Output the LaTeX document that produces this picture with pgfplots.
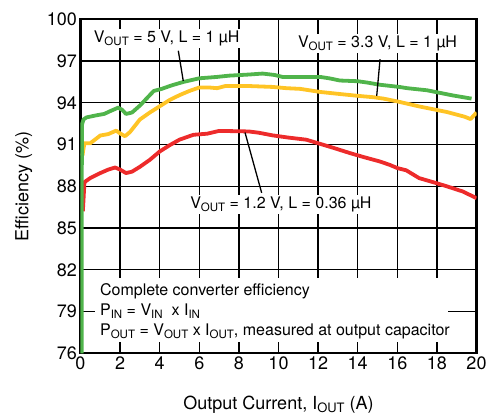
\documentclass[border=0pt]{standalone}
\usepackage{fontspec}
\setmainfont{TeX Gyre Heros}
\usepackage{pgfplots}
\pgfplotsset{compat=1.18}

\definecolor{vgreen}{RGB}{80,180,75}
\definecolor{vyellow}{RGB}{255,196,37}
\definecolor{vred}{RGB}{237,43,43}
\newcommand\sub[1]{\raisebox{-0.3ex}{\scalebox{0.72}{#1}}}

\begin{document}
\begin{tikzpicture}
\begin{axis}[
	name=ax,
	scale only axis,
	width=396pt,
	height=334pt,
	xmin=0, xmax=20,
	ymin=76, ymax=100,
	xtick={0,2,...,20},
	ytick={76,79,...,100},
	grid=major,
	major grid style={black, line width=1.3pt},
	axis line style={black, line width=2.4pt},
	major tick length=0pt,
	ticklabel style={font=\fontsize{18}{20}\selectfont},
	/pgf/number format/assume math mode=true,
	label style={font=\fontsize{18}{20}\selectfont},
	xlabel={Output Current, I\sub{OUT} (A)},
	ylabel={Efficiency (\%)},
	xlabel style={at={(axis description cs:0.5,-0.155)}, anchor=center},
	ylabel style={at={(axis description cs:-0.143,0.5)}, anchor=center},
]
% 1.2 V, L = 0.36 uH
\addplot[vred, line width=3.8pt, line join=round] coordinates {
(0.12,86.2) (0.2,88.3) (0.5,88.6) (1.0,88.95) (1.4,89.2) (1.75,89.35) (2.0,89.2)
(2.3,88.95) (2.6,89.05) (3.0,89.4) (3.5,89.9) (4.0,90.5) (4.5,90.95) (5.0,91.35)
(5.7,91.7) (6.4,91.78) (7.0,91.98) (7.8,91.96) (8.5,91.94) (9.0,91.85) (9.7,91.66)
(10.5,91.5) (11.4,91.35) (12.1,91.05) (12.8,90.75) (13.6,90.39) (14.3,90.1)
(15.1,89.79) (15.6,89.55) (16.0,89.31) (16.45,89.15) (17.1,88.59) (17.8,88.3)
(18.5,88.0) (19.3,87.63) (20,87.15)
};
% 3.3 V, L = 1 uH
\addplot[vyellow, line width=3.8pt, line join=round] coordinates {
(0.1,90.2) (0.14,90.6) (0.2,91.1) (0.5,91.1) (1.0,91.65) (1.4,91.75) (1.8,92.0)
(2.0,91.8) (2.25,91.6) (2.5,91.9) (3.0,92.8) (3.5,93.3) (4.0,93.75) (4.5,94.2)
(5.0,94.55) (5.5,94.85) (6.0,95.1) (6.5,95.1) (6.9,95.05) (7.3,95.2) (8.0,95.2)
(8.6,95.2) (9.7,95.14) (10.4,95.05) (11.1,95.0) (12.1,94.78) (13.1,94.63)
(14.0,94.5) (14.8,94.4) (15.3,94.3) (16.0,94.1) (17.1,93.74) (18.5,93.34)
(19.4,93.0) (19.7,92.83) (20,93.3)
};
% 5 V, L = 1 uH
\addplot[vgreen, line width=3.8pt, line join=round] coordinates {
(0.06,76) (0.07,92.4) (0.15,92.8) (0.3,92.95) (0.8,93.1) (1.2,93.2) (1.5,93.4)
(1.9,93.65) (2.1,93.5) (2.3,93.2) (2.6,93.3) (3.0,93.8) (3.4,94.4) (3.7,94.85)
(4.1,95.0) (4.6,95.25) (5.2,95.5) (6.0,95.76) (6.9,95.86) (7.5,95.95) (8.5,96.03)
(9.2,96.1) (9.8,96.0) (10.2,95.86) (11.0,95.85) (12.1,95.86) (12.6,95.75)
(13.1,95.6) (14.0,95.55) (14.5,95.45) (15.1,95.3) (16.1,95.14) (16.5,95.05)
(17.5,94.9) (18.2,94.7) (18.8,94.53) (19.75,94.3)
};

\node[fill=white, inner sep=2pt, font=\fontsize{16}{19}\selectfont]
	at (axis cs:4.35,98.6) {V\sub{OUT} = 5 V, L = 1 µH};
\draw[black, line width=1.3pt] (axis cs:4.94,97.74) -- (axis cs:5.19,95.57);
\node[fill=white, inner sep=2pt, font=\fontsize{16}{19}\selectfont]
	at (axis cs:15.0,98.25) {V\sub{OUT} = 3.3 V, L = 1 µH};
\draw[black, line width=1.3pt] (axis cs:15.13,97.14) -- (axis cs:14.96,94.49);
\node[fill=white, inner sep=2pt, font=\fontsize{16}{19}\selectfont]
	at (axis cs:10.12,86.69) {V\sub{OUT} = 1.2 V, L = 0.36 µH};
\draw[black, line width=1.3pt] (axis cs:8.31,91.86) -- (axis cs:9.15,87.53);

\fill[white] (axis cs:0.73,76.81) rectangle (axis cs:18.56,81.43);
\node[anchor=north west, align=left, inner sep=0pt, font=\fontsize{16}{20}\selectfont]
	at (axis cs:0.98,81.0) {Complete converter efficiency\\
	P\sub{IN} = V\sub{IN}\ \ x I\sub{IN}\\
	P\sub{OUT} = V\sub{OUT} x I\sub{OUT}, measured at output capacitor};
\end{axis}
\pgfresetboundingbox
\path[use as bounding box] ([shift={(-80.5pt,-60.7pt)}]ax.south west) rectangle ([shift={(409.5pt,353.3pt)}]ax.south west);
\end{tikzpicture}
\end{document}
